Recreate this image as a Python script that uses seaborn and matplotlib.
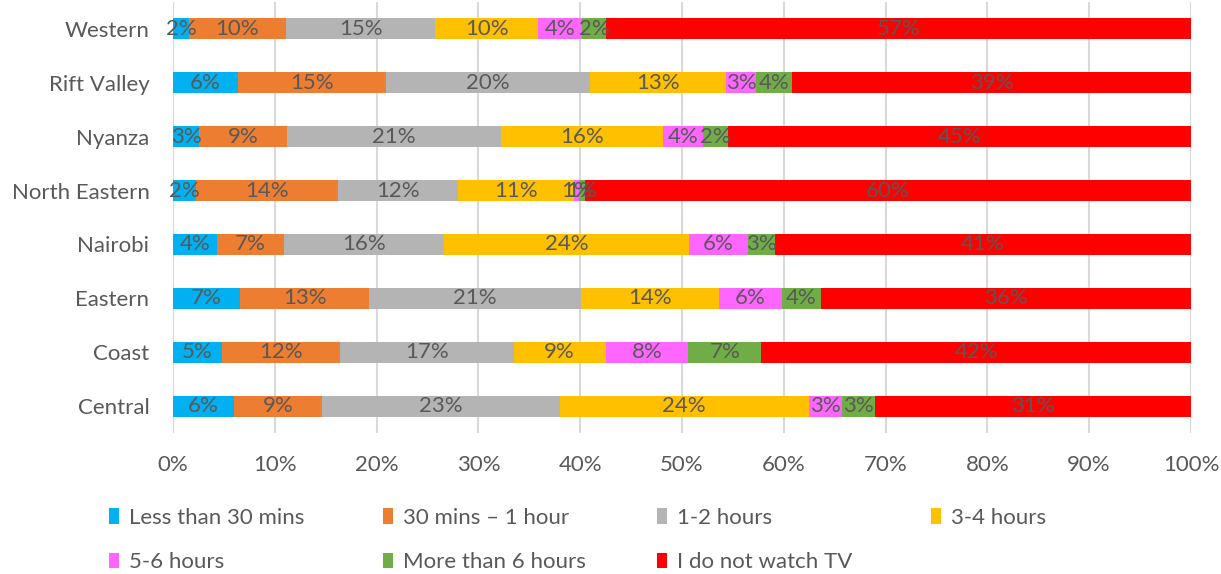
import matplotlib
matplotlib.use("Agg")
import matplotlib.pyplot as plt
import seaborn as sns
import pandas as pd
from matplotlib.patches import Patch

# share of respondents per region (percent)
regions = ["Western", "Rift Valley", "Nyanza", "North Eastern", "Nairobi", "Eastern", "Coast", "Central"]
less_30 = [1.55, 6.4, 2.6, 2.25, 4.3, 6.6, 4.8, 6.0]
mins_30_60 = [9.55, 14.55, 8.6, 14.0, 6.6, 12.65, 11.6, 8.65]
hours_1_2 = [14.65, 20.0, 21.0, 11.75, 15.7, 20.8, 17.05, 23.35]
hours_3_4 = [10.1, 13.35, 15.95, 11.35, 24.1, 13.6, 9.05, 24.45]
hours_5_6 = [4.3, 3.0, 3.95, 0.55, 5.8, 6.15, 8.1, 3.25]
more_6 = [2.4, 3.55, 2.45, 0.55, 2.65, 3.85, 7.2, 3.3]
no_tv = [57.45, 39.15, 45.45, 59.55, 40.85, 36.35, 42.2, 31.0]

categories = ["Less than 30 mins", "30 mins \u2013 1 hour", "1-2 hours", "3-4 hours",
              "5-6 hours", "More than 6 hours", "I do not watch TV"]
colors = ["#00b0f0", "#ed7d31", "#b4b4b4", "#ffc000", "#ff66ff", "#70ad47", "#ff0000"]
tick_labels = ["0%", "10%", "20%", "30%", "40%", "50%", "60%", "70%", "80%", "90%", "100%"]

df = pd.DataFrame({"region": regions})
for cat, vals in zip(categories, [less_30, mins_30_60, hours_1_2, hours_3_4, hours_5_6, more_6, no_tv]):
    df[cat] = vals
cum = df[categories].cumsum(axis=1)

sns.set_style("white")
plt.rcParams["font.family"] = ["Lato", "DejaVu Sans"]
text_col = "#595959"
fs = 16

fig = plt.figure(figsize=(12.21, 5.74), dpi=100)
ax = fig.add_axes([0.1417, 0.2456, 0.8337, 0.7509])

# stacked bars: draw cumulative totals from the last series back to the first
for cat, col in reversed(list(zip(categories, colors))):
    sns.barplot(x=cum[cat], y=df["region"], color=col, saturation=1, width=0.39,
                orient="h", errorbar=None, linewidth=0, ax=ax, zorder=3)

for cat in categories:
    for i, (v, c) in enumerate(zip(df[cat], cum[cat])):
        ax.text(c - v / 2, i, f"{v:.0f}%", ha="center", va="center",
                color=text_col, fontsize=fs, zorder=5)

ax.set_xlim(0, 100)
ax.set_xticks(range(0, 101, 10))
ax.set_xticklabels(tick_labels)
ax.set_xlabel("")
ax.set_ylabel("")
ax.grid(axis="x", color="#d9d9d9", linewidth=1.5, zorder=0)
ax.set_axisbelow(True)
for s in ax.spines.values():
    s.set_visible(False)
ax.tick_params(axis="x", length=0, pad=16, labelsize=fs, labelcolor=text_col)
ax.tick_params(axis="y", length=0, pad=17, labelsize=fs, labelcolor=text_col)

# legend in 4 columns, 2 rows
handles = [Patch(facecolor=c, edgecolor="none") for c in colors]
col_x = [109, 383, 657, 931]
for k, x in enumerate(col_x):
    fig.legend(handles[k::4], categories[k::4], loc="upper left",
               bbox_to_anchor=(x / 1221, 1 - 508 / 574), frameon=False,
               fontsize=fs, labelcolor=text_col, handlelength=0.45, handleheight=0.7,
               handletextpad=0.45, labelspacing=1.1, borderpad=0, borderaxespad=0)

fig.savefig("out.png", dpi=100)
